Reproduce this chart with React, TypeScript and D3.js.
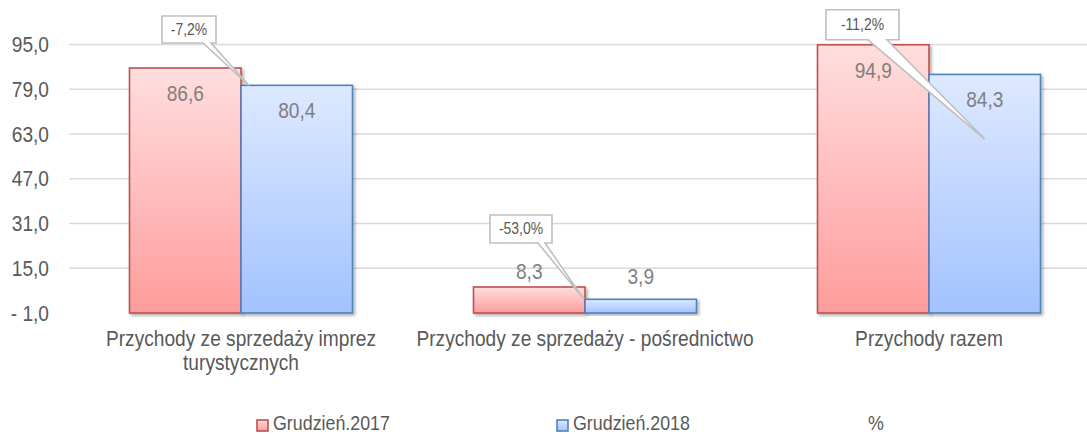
import React from "react";
import * as d3 from "d3";

const categories = [
  "Przychody ze sprzedaży imprez\nturystycznych",
  "Przychody ze sprzedaży - pośrednictwo",
  "Przychody razem",
];
const seriesNames = ["Grudzień.2017", "Grudzień.2018", "%"];
const values2017 = [86.6, 8.3, 94.9];
const values2018 = [80.4, 3.9, 84.3];
const changeLabels = ["-7,2%", "-53,0%", "-11,2%"];
const yTicks = [-1, 15, 31, 47, 63, 79, 95];

// callout layout (pixel offsets relative to group center / red bar top), tip in data terms
const calloutLayout = [
  { dx: -79, dy: -52, w: 54, h: 27, baseL: 41, baseR: 49, tipFrac: 0.07, tipVal: 80.4 },
  { dx: -95, dy: -72, w: 62, h: 28, baseL: 48, baseR: 55, tipFrac: -0.01, tipVal: 3.9 },
  { dx: -103, dy: -35, w: 73, h: 30, baseL: 42, baseR: 61, tipFrac: 0.5, tipVal: 61.2 },
];

const W = 1087;
const H = 434;
const FONT = "'Liberation Sans', Arial, sans-serif";
const NARROW_SCALE = 0.87;

const fmt = (v: number) => {
  const s = d3.format(".1f")(Math.abs(v)).replace(".", ",");
  return v < 0 ? "- " + s : s;
};

function NText(props: {
  x: number;
  y: number;
  anchor?: "start" | "middle" | "end";
  size: number;
  fill: string;
  children: React.ReactNode;
}) {
  return (
    <text
      transform={`translate(${props.x},${props.y}) scale(${NARROW_SCALE},1)`}
      textAnchor={props.anchor || "start"}
      fontFamily={FONT}
      fontSize={props.size}
      fill={props.fill}
    >
      {props.children}
    </text>
  );
}

export default function App() {
  const x0 = d3.scaleBand<number>().domain(d3.range(categories.length)).range([69, 1101]).padding(0);
  const groupW = 223;
  const x1 = d3.scaleBand<number>().domain([0, 1]).range([0, groupW]).padding(0);
  const y = d3.scaleLinear().domain([-1, 95]).range([313, 44.5]);
  const series = [values2017, values2018];
  const fills = ["url(#gRed)", "url(#gBlue)"];
  const strokes = ["#c0504d", "#4f81bd"];
  const gx = (i: number) => (x0(i) as number) + (x0.bandwidth() - groupW) / 2;

  return (
    <svg width={W} height={H} style={{ display: "block", position: "absolute", left: 0, top: 0 }}>
      <defs>
        <linearGradient id="gRed" x1="0" y1="0" x2="0" y2="1">
          <stop offset="0" stopColor="#ffdede" />
          <stop offset="1" stopColor="#ff9c9c" />
        </linearGradient>
        <linearGradient id="gBlue" x1="0" y1="0" x2="0" y2="1">
          <stop offset="0" stopColor="#dee9ff" />
          <stop offset="1" stopColor="#a2c2ff" />
        </linearGradient>
        <filter id="sh" x="-10%" y="-10%" width="130%" height="130%">
          <feDropShadow dx="2" dy="2" stdDeviation="1.6" floodColor="#000" floodOpacity="0.3" />
        </filter>
      </defs>
      <rect width={W} height={H} fill="#fff" />
      {/* gridlines */}
      {yTicks.slice(1).map((t) => (
        <line key={t} x1={69} x2={W} y1={y(t)} y2={y(t)} stroke="#d9d9d9" strokeWidth={1.4} />
      ))}
      {/* y labels */}
      {yTicks.map((t) => (
        <NText key={"l" + t} x={49} y={y(t) + 7.5} anchor="end" size={22} fill="#595959">
          {fmt(t)}
        </NText>
      ))}
      {/* baseline */}
      <line x1={69} x2={W} y1={y(-1) - 0.5} y2={y(-1) - 0.5} stroke="#d9d9d9" strokeWidth={2.5} filter="url(#sh)" />
      {/* bars */}
      {categories.map((_, ci) =>
        series.map((vals, si) => {
          const bx = gx(ci) + (x1(si) as number);
          const top = y(vals[ci]);
          return (
            <rect
              key={ci + "-" + si}
              x={bx}
              y={top}
              width={x1.bandwidth()}
              height={y(-1) - top}
              fill={fills[si]}
              stroke={strokes[si]}
              strokeWidth={1.6}
              filter="url(#sh)"
            />
          );
        })
      )}
      {/* value labels */}
      {categories.map((_, ci) =>
        series.map((vals, si) => {
          const v = vals[ci];
          const bx = gx(ci) + (x1(si) as number) + x1.bandwidth() / 2;
          const ty = v > 20 ? y(v) + 33 : Math.min(y(v) - 8, 284);
          return (
            <NText key={"v" + ci + si} x={bx} y={ty} anchor="middle" size={22} fill="#7f7f7f">
              {fmt(v)}
            </NText>
          );
        })
      )}
      {/* callouts */}
      {changeLabels.map((lab, ci) => {
        const L = calloutLayout[ci];
        const cx = gx(ci) + groupW / 2;
        const bxl = cx + L.dx;
        const byt = y(values2017[ci]) + L.dy;
        const byb = byt + L.h;
        const tipX = gx(ci) + (x1(1) as number) + L.tipFrac * x1.bandwidth();
        const tipY = y(L.tipVal);
        const path = d3.path();
        path.moveTo(bxl, byt);
        path.lineTo(bxl + L.w, byt);
        path.lineTo(bxl + L.w, byb);
        path.lineTo(bxl + L.baseR, byb);
        path.lineTo(tipX, tipY);
        path.lineTo(bxl + L.baseL, byb);
        path.lineTo(bxl, byb);
        path.closePath();
        return (
          <g key={"c" + ci}>
            <path d={path.toString()} fill="#fff" stroke="#bfbfbf" strokeWidth={1.6} />
            <NText x={bxl + L.w / 2} y={byt + L.h / 2 + 5.5} anchor="middle" size={16} fill="#595959">
              {lab}
            </NText>
          </g>
        );
      })}
      {/* category labels */}
      {categories.map((c, ci) => {
        const cx = (x0(ci) as number) + x0.bandwidth() / 2;
        return c.split("\n").map((ln, li) => (
          <NText key={"cat" + ci + li} x={cx} y={346 + li * 24} anchor="middle" size={22} fill="#595959">
            {ln}
          </NText>
        ));
      })}
      {/* legend */}
      {seriesNames.map((n, i) => {
        const lx = 257 + i * 300;
        return (
          <g key={"lg" + i}>
            {i < 2 && (
              <rect x={lx} y={420} width={11} height={11} fill={fills[i]} stroke={strokes[i]} strokeWidth={1.6} />
            )}
            <NText x={lx + (i < 2 ? 16 : 11)} y={430} size={20.5} fill="#595959">
              {n}
            </NText>
          </g>
        );
      })}
    </svg>
  );
}
